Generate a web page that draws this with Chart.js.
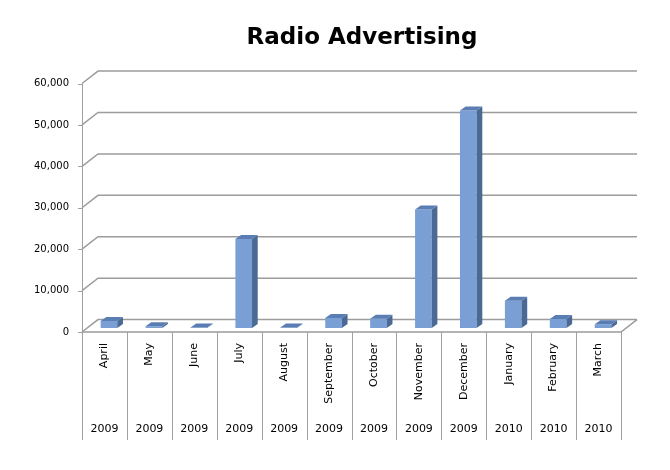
<!DOCTYPE html>
<html>
<head>
<meta charset="utf-8">
<title>Radio Advertising</title>
<script src="https://cdn.jsdelivr.net/npm/chart.js@4.4.1/dist/chart.umd.min.js"></script>
<style>
    html, body { margin: 0; padding: 0; background: #ffffff; }
    #wrap { width: 670px; height: 470px; }
</style>
</head>
<body>
<div id="wrap"><canvas id="radioChart" width="670" height="470"></canvas></div>
<script>
// data
const months = ['April', 'May', 'June', 'July', 'August', 'September', 'October', 'November', 'December', 'January', 'February', 'March'];
const years = ['2009', '2009', '2009', '2009', '2009', '2009', '2009', '2009', '2009', '2010', '2010', '2010'];
const spend = [1700, 400, 100, 21500, 100, 2400, 2250, 28600, 52500, 6600, 2150, 900];
const yTicks = [0, 10000, 20000, 30000, 40000, 50000, 60000];

document.addEventListener("DOMContentLoaded", function() {
    // 3D look: back wall offset, bar offset and bar depth
    const wall = { dx: 16, dy: -12.4 };
    const barShift = { dx: 4.5, dy: -4 };
    const depth = { dx: 5.7, dy: -4 };

    const fmt = v => v.toLocaleString('en-US');

    const box3d = {
        id: 'box3d',
        beforeDatasetsDraw(chart) {
            const ctx = chart.ctx;
            const a = chart.chartArea;
            const y = chart.scales.y;
            ctx.save();
            ctx.strokeStyle = '#9c9c9c';
            ctx.lineWidth = 1.5;
            yTicks.forEach(v => {
                const py = y.getPixelForValue(v);
                ctx.beginPath();
                ctx.moveTo(a.left, py);
                ctx.lineTo(a.left + wall.dx, py + wall.dy);
                ctx.lineTo(a.right + wall.dx, py + wall.dy);
                ctx.stroke();
            });
            // floor front edge and right side
            ctx.beginPath();
            ctx.moveTo(a.left, a.bottom);
            ctx.lineTo(a.right, a.bottom);
            ctx.lineTo(a.right + wall.dx, a.bottom + wall.dy);
            ctx.stroke();
            ctx.restore();

            // bars sit a bit back in the box
            ctx.save();
            ctx.translate(barShift.dx, barShift.dy);
        },
        afterDatasetsDraw(chart) {
            const ctx = chart.ctx;
            chart.getDatasetMeta(0).data.forEach(bar => {
                const p = bar.getProps(['x', 'y', 'base', 'width'], true);
                const l = p.x - p.width / 2, r = p.x + p.width / 2;
                // side
                ctx.fillStyle = '#4a6a95';
                ctx.beginPath();
                ctx.moveTo(r, p.base);
                ctx.lineTo(r + depth.dx, p.base + depth.dy);
                ctx.lineTo(r + depth.dx, p.y + depth.dy);
                ctx.lineTo(r, p.y);
                ctx.closePath();
                ctx.fill();
                // top
                ctx.fillStyle = '#5a7db3';
                ctx.beginPath();
                ctx.moveTo(l, p.y);
                ctx.lineTo(l + depth.dx, p.y + depth.dy);
                ctx.lineTo(r + depth.dx, p.y + depth.dy);
                ctx.lineTo(r, p.y);
                ctx.closePath();
                ctx.fill();
            });
            ctx.restore();
        },
        afterDraw(chart) {
            const ctx = chart.ctx;
            const a = chart.chartArea;
            const x = chart.scales.x;
            const y = chart.scales.y;
            const bottom = 440;
            ctx.save();
            ctx.strokeStyle = '#a0a0a0';
            ctx.lineWidth = 1;
            // value axis and tick stubs
            ctx.beginPath();
            ctx.moveTo(a.left + 0.5, a.top);
            ctx.lineTo(a.left + 0.5, bottom);
            yTicks.forEach(v => {
                const py = Math.round(y.getPixelForValue(v)) + 0.5;
                ctx.moveTo(a.left - 4, py);
                ctx.lineTo(a.left, py);
            });
            // category dividers under the floor
            for (let i = 0; i <= months.length; i++) {
                const px = Math.round(x.getPixelForValue(i - 0.5)) + 0.5;
                ctx.moveTo(px, a.bottom);
                ctx.lineTo(px, bottom);
            }
            ctx.stroke();

            // title
            ctx.fillStyle = '#000000';
            ctx.font = 'bold 23px "DejaVu Sans"';
            ctx.textAlign = 'center';
            ctx.textBaseline = 'alphabetic';
            ctx.fillText('Radio Advertising', 362, 44);
            ctx.restore();
        }
    };

    new Chart(document.getElementById('radioChart'), {
        type: 'bar',
        data: {
            labels: months,
            datasets: [{
                label: 'Radio Advertising',
                data: spend,
                backgroundColor: '#7a9fd4',
                borderWidth: 0,
                barPercentage: 0.37,
                categoryPercentage: 1
            }]
        },
        options: {
            responsive: false,
            animation: false,
            devicePixelRatio: 1,
            layout: { padding: { top: 83.5, right: 49, bottom: 0, left: 0 } },
            plugins: {
                legend: { display: false },
                tooltip: { enabled: false },
                title: { display: false }
            },
            scales: {
                x: {
                    position: 'bottom',
                    grid: { display: false, drawTicks: false },
                    border: { display: false },
                    ticks: {
                        minRotation: 90, maxRotation: 90, padding: 11,
                        color: '#000', font: { family: 'DejaVu Sans', size: 11 }
                    },
                    afterFit: s => { s.height = 86; }
                },
                x2: {
                    type: 'category',
                    position: 'bottom',
                    labels: years,
                    offset: true,
                    grid: { display: false, drawTicks: false },
                    border: { display: false },
                    ticks: {
                        maxRotation: 0, padding: 5,
                        color: '#000', font: { family: 'DejaVu Sans', size: 11 }
                    },
                    afterFit: s => { s.height = 52; }
                },
                y: {
                    min: 0, max: 60000,
                    grid: { display: false, drawTicks: false },
                    border: { display: false },
                    afterBuildTicks: s => { s.ticks = yTicks.map(v => ({ value: v })); },
                    afterFit: s => { s.width = 82; },
                    ticks: {
                        padding: 13,
                        color: '#000',
                        font: { family: 'DejaVu Sans', size: 10 },
                        callback: v => fmt(v)
                    }
                }
            }
        },
        plugins: [box3d]
    });
});
</script>
</body>
</html>
